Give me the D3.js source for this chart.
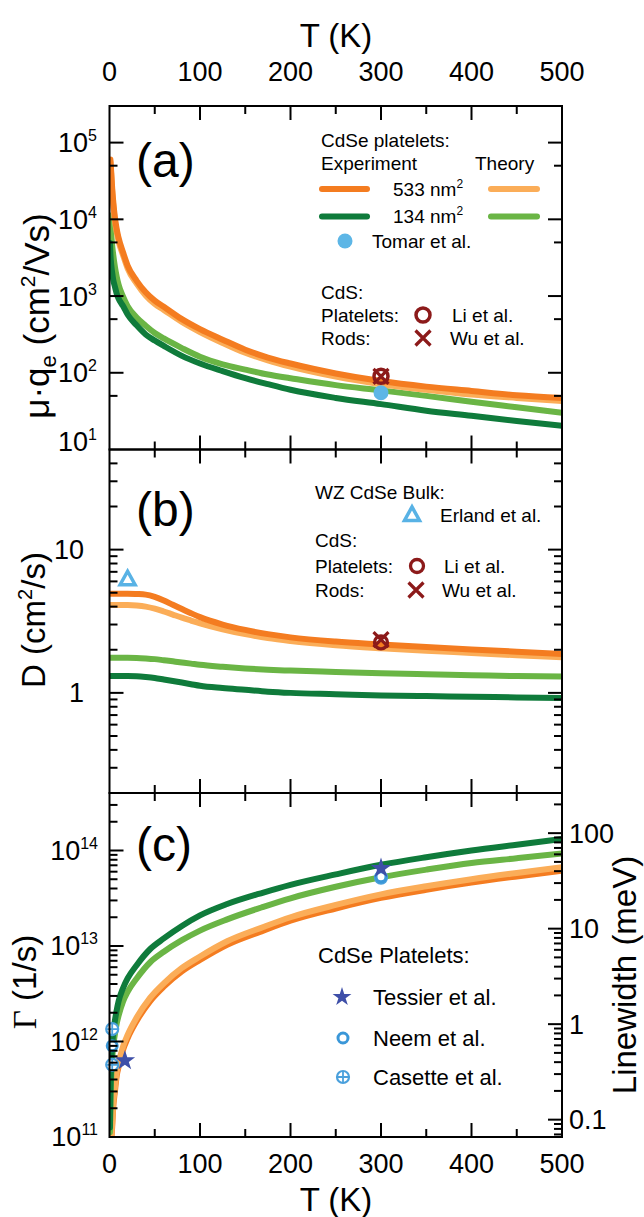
<!DOCTYPE html>
<html><head><meta charset="utf-8">
<script src="https://cdn.jsdelivr.net/npm/d3@7"></script>
<style>
body{margin:0;background:#fff}
svg{display:block}
text{font-family:"Liberation Sans",Arial,Helvetica,sans-serif;fill:#000}
</style>
</head><body>
<svg id="chart" width="644" height="1217"></svg>
<script>
// ---------------- DATA ----------------
const tempTicks = [0,100,200,300,400,500];

// Panel (a): mobility mu*q_e (cm^2/Vs)
const T_A = [0.5,1,2,3,4,6,8,10,15,20,30,40,50,60,80,100,125,150,175,200,250,300,350,400,450,500];
const mu533Exp = [null,60000,40000,25000,17800,10500,7400,5750,3700,2500,1580,1120,870,725,500,370,270,200,158,132,98,78,66,58,51,47];
const mu533Th  = [null,56000,36000,23000,16000,9500,6800,5200,3400,2300,1450,1020,790,660,460,340,245,182,145,120,89,71,60,52,47,43];
const mu134Th  = [null,11200,6300,4500,3550,2400,1780,1410,980,740,525,410,330,280,210,162,129,110,95,85,69,59,50,42,35.5,30];
const mu134Exp = [4900,3550,2500,2000,1660,1320,1070,930,740,575,415,316,263,224,166,132,105,85,71,60,47,39,32,27.5,23.5,20.4];
const tomarA = [[300,55]];
const liA = [[300,90]];
const wuA = [[300,90]];

// Panel (b): diffusion D (cm^2/s)
const T_B = [0.5,20,30,40,50,60,70,80,90,100,125,150,175,200,250,300,350,400,450,500];
const D533Exp = [4.93,4.93,4.9,4.85,4.68,4.42,4.12,3.85,3.6,3.38,3.0,2.75,2.57,2.44,2.28,2.18,2.09,2.01,1.94,1.87];
const D533Th  = [4.1,4.1,4.07,4.0,3.87,3.7,3.52,3.35,3.2,3.06,2.78,2.57,2.41,2.3,2.15,2.05,1.97,1.9,1.83,1.77];
const D134Th  = [1.76,1.76,1.755,1.74,1.72,1.69,1.66,1.63,1.6,1.57,1.52,1.48,1.45,1.43,1.40,1.37,1.35,1.33,1.31,1.30];
const D134Exp = [1.31,1.31,1.305,1.29,1.27,1.24,1.21,1.18,1.15,1.12,1.08,1.05,1.02,1.0,0.98,0.96,0.95,0.94,0.93,0.92];
const erlandB = [[20,6.2]];
const liB = [[300,2.25]];
const wuB = [[300,2.35]];

// Panel (c): dephasing rate Gamma (1/s)
const T_C = [0.5,1,2,3,4,6,8,10,15,20,30,45,60,80,100,130,170,200,250,300,350,400,450,500];
const G134Exp = [1.26e11,2.8e11,6.3e11,9.3e11,1.2e12,1.66e12,2.14e12,2.63e12,3.63e12,4.57e12,6.3e12,9.3e12,1.2e13,1.62e13,2.09e13,2.75e13,3.63e13,4.37e13,5.62e13,7.08e13,8.5e13,1.0e14,1.15e14,1.32e14];
const G134Th  = [1.12e11,2.24e11,4.47e11,6.6e11,8.7e11,1.2e12,1.55e12,1.86e12,2.63e12,3.31e12,4.57e12,6.76e12,8.7e12,1.15e13,1.45e13,1.9e13,2.57e13,3.16e13,4.17e13,5.25e13,6.3e13,7.4e13,8.3e13,9.3e13];
const G533Th  = [null,6.3e10,1.0e11,1.41e11,2.14e11,3.3e11,4.8e11,5.9e11,8.9e11,1.17e12,1.78e12,2.88e12,4.07e12,5.89e12,7.76e12,1.12e13,1.58e13,2.0e13,2.69e13,3.47e13,4.22e13,5.01e13,5.82e13,6.68e13];
const G533Exp = [null,5.6e10,9.1e10,1.29e11,1.96e11,3.0e11,4.4e11,5.4e11,8.2e11,1.08e12,1.64e12,2.65e12,3.75e12,5.42e12,7.14e12,1.03e13,1.45e13,1.84e13,2.47e13,3.19e13,3.88e13,4.61e13,5.35e13,6.15e13];
const tessierC = [[17,6.3e11],[300,6.5e13]];
const neemC = [[3,9e11],[300,5.3e13]];
const casetteC = [[3,1.35e12],[3,5.7e11],[300,5.2e13]];
const hbar_meVs = 6.582e-13;

// ---------------- STYLE ----------------
const COL = {expOr:"#F47C20", thOr:"#FBAD58", expGr:"#0F7B3B", thGr:"#6AB545",
  tomar:"#5DB6E6", dred:"#8C1A1A", erland:"#58B2E5", tessier:"#3E4FA8", neem:"#3A97D8", casette:"#4AA0DC"};
const LW = 6;

const svg = d3.select("#chart");
const X0 = 109.5, X1 = 562;
const x = d3.scaleLinear().domain([0,500]).range([X0,X1]);

const panels = [
  {id:"a", top:106, bot:449.5, y:d3.scaleLog().domain([10,3e5]).range([449.5,106]), minors:[5]},
  {id:"b", top:449.5, bot:793, y:d3.scaleLog().domain([0.2,50]).range([793,449.5]), minors:[2,3,4,5,6,7,8,9]},
  {id:"c", top:793, bot:1137, y:d3.scaleLog().domain([1e11,4e14]).range([1137,793]), minors:[2,3,4,5,6,7,8,9]}
];
const yR = d3.scaleLog().domain([1e11*hbar_meVs, 4e14*hbar_meVs]).range([1137,793]);

function logTicks(scale, minors){
  const [d0,d1] = scale.domain();
  const out = [];
  for(let k=Math.floor(Math.log10(d0)); k<=Math.ceil(Math.log10(d1)); k++){
    const base = Math.pow(10,k);
    if(base>=d0*0.999 && base<=d1*1.001) out.push({v:base, major:true, k:k});
    minors.forEach(m=>{const v=m*base; if(v>d0*1.001 && v<d1*0.999) out.push({v:v, major:false});});
  }
  return out;
}

const defs = svg.append("defs");
panels.forEach(p=>{
  defs.append("clipPath").attr("id","clip-"+p.id).append("rect")
    .attr("x",X0).attr("y",p.top).attr("width",X1-X0).attr("height",p.bot-p.top);
});

function drawLine(g, p, T, vals, color){
  const data = T.map((t,i)=>[t, vals[i]]);
  const line = d3.line().defined(d=>d[1]!=null).x(d=>x(d[0])).y(d=>p.y(d[1])).curve(d3.curveMonotoneX);
  g.append("path").datum(data).attr("d",line).attr("fill","none")
    .attr("stroke",color).attr("stroke-width",LW).attr("stroke-linejoin","round").attr("stroke-linecap","round");
}

function openCircle(g,cx,cy,r,color,sw,fill){
  g.append("circle").attr("cx",cx).attr("cy",cy).attr("r",r).attr("fill",fill||"none").attr("stroke",color).attr("stroke-width",sw);
}
function cross(g,cx,cy,s,color,sw){
  g.append("path").attr("d",`M${cx-s},${cy-s}L${cx+s},${cy+s}M${cx-s},${cy+s}L${cx+s},${cy-s}`)
    .attr("stroke",color).attr("stroke-width",sw).attr("fill","none");
}
function triangle(g,cx,cy,s,color,sw){
  const h = s*0.9;
  g.append("path").attr("d",`M${cx},${cy-h*0.6}L${cx+s/2},${cy+h*0.4}L${cx-s/2},${cy+h*0.4}Z`)
    .attr("stroke",color).attr("stroke-width",sw).attr("fill","none").attr("stroke-linejoin","miter");
}
function star(g,cx,cy,size,color){
  g.append("path").attr("d",d3.symbol().type(d3.symbolStar).size(size)()).attr("transform",`translate(${cx},${cy})`).attr("fill",color);
}
function casette(g,cx,cy,r,color){
  g.append("circle").attr("cx",cx).attr("cy",cy).attr("r",r).attr("fill","#fff").attr("stroke",color).attr("stroke-width",2.2);
  g.append("path").attr("d",`M${cx-r},${cy}L${cx+r},${cy}M${cx},${cy-r}L${cx},${cy+r}`).attr("stroke",color).attr("stroke-width",1.8);
}

// ---------- curves ----------
const pa = panels[0], pb = panels[1], pc = panels[2];
const gA = svg.append("g").attr("clip-path","url(#clip-a)");
drawLine(gA,pa,T_A,mu134Th,COL.thGr);
drawLine(gA,pa,T_A,mu134Exp,COL.expGr);
drawLine(gA,pa,T_A,mu533Th,COL.thOr);
drawLine(gA,pa,T_A,mu533Exp,COL.expOr);
tomarA.forEach(d=>svg.append("circle").attr("cx",x(d[0])).attr("cy",pa.y(d[1])).attr("r",7.5).attr("fill",COL.tomar));
liA.forEach(d=>openCircle(svg,x(d[0]),pa.y(d[1]),7,COL.dred,3.5));
wuA.forEach(d=>cross(svg,x(d[0]),pa.y(d[1]),7.5,COL.dred,3.2));

const gB = svg.append("g").attr("clip-path","url(#clip-b)");
drawLine(gB,pb,T_B,D134Th,COL.thGr);
drawLine(gB,pb,T_B,D134Exp,COL.expGr);
drawLine(gB,pb,T_B,D533Th,COL.thOr);
drawLine(gB,pb,T_B,D533Exp,COL.expOr);
erlandB.forEach(d=>triangle(svg,x(d[0]),pb.y(d[1]),15,COL.erland,3.5));
liB.forEach(d=>openCircle(svg,x(d[0]),pb.y(d[1]),6.5,COL.dred,3.3));
wuB.forEach(d=>cross(svg,x(d[0]),pb.y(d[1]),7.5,COL.dred,3.2));

const gC = svg.append("g").attr("clip-path","url(#clip-c)");
drawLine(gC,pc,T_C,G533Exp,COL.expOr);
drawLine(gC,pc,T_C,G533Th,COL.thOr);
drawLine(gC,pc,T_C,G134Th,COL.thGr);
drawLine(gC,pc,T_C,G134Exp,COL.expGr);
const gCm = svg.append("g");
casetteC.forEach(d=>casette(gCm,x(d[0]),pc.y(d[1]),6,COL.casette));
neemC.forEach(d=>openCircle(gCm,x(d[0]),pc.y(d[1]),5,COL.neem,3,"#fff"));
tessierC.forEach(d=>star(gCm,x(d[0]),pc.y(d[1]),130,COL.tessier));

// ---------- frames & ticks ----------
const axisG = svg.append("g").attr("stroke","#000").attr("stroke-width",2).attr("fill","none");
panels.forEach(p=>{
  axisG.append("rect").attr("x",X0).attr("y",p.top).attr("width",X1-X0).attr("height",p.bot-p.top);
  d3.range(0,501,50).forEach(t=>{
    const len = (t%100===0)?14:8;
    if(t===0||t===500) return;
    axisG.append("line").attr("x1",x(t)).attr("x2",x(t)).attr("y1",p.top).attr("y2",p.top+len);
    axisG.append("line").attr("x1",x(t)).attr("x2",x(t)).attr("y1",p.bot).attr("y2",p.bot-len);
  });
  logTicks(p.y,p.minors).forEach(tk=>{
    const yy = p.y(tk.v); const len = tk.major?14:8;
    if(Math.abs(yy-p.top)<1||Math.abs(yy-p.bot)<1) return;
    axisG.append("line").attr("x1",X0).attr("x2",X0+len).attr("y1",yy).attr("y2",yy);
    if(p.id!=="c") axisG.append("line").attr("x1",X1).attr("x2",X1-len).attr("y1",yy).attr("y2",yy);
  });
});
logTicks(yR,[2,3,4,5,6,7,8,9]).forEach(tk=>{
  const yy = yR(tk.v); const len = tk.major?14:8;
  axisG.append("line").attr("x1",X1).attr("x2",X1-len).attr("y1",yy).attr("y2",yy);
});

// ---------- tick labels ----------
const TF = 27;
tempTicks.forEach(t=>{
  svg.append("text").attr("x",x(t)).attr("y",72).attr("dy","0.35em").attr("text-anchor","middle").attr("font-size",TF).text(t);
  svg.append("text").attr("x",x(t)).attr("y",1164).attr("dy","0.35em").attr("text-anchor","middle").attr("font-size",TF).text(t);
});
function powLabel(xr, yc, k){
  const t = svg.append("text").attr("x",xr).attr("y",yc).attr("dy","0.35em").attr("text-anchor","end").attr("font-size",TF);
  t.append("tspan").text("10");
  t.append("tspan").attr("font-size",16).attr("dy",-11).text(k);
}
[1,2,3,4,5].forEach(k=>powLabel(97, k===1?442:pa.y(Math.pow(10,k)), k));
[11,12,13,14].forEach(k=>powLabel(98, pc.y(Math.pow(10,k)), k));
[[10,"10"],[1,"1"]].forEach(d=>svg.append("text").attr("x",84).attr("y",pb.y(d[0])).attr("dy","0.35em").attr("text-anchor","end").attr("font-size",TF).text(d[1]));
[[0.1,"0.1"],[1,"1"],[10,"10"],[100,"100"]].forEach(d=>svg.append("text").attr("x",569).attr("y",yR(d[0])).attr("dy","0.35em").attr("text-anchor","start").attr("font-size",TF).text(d[1]));

// ---------- axis titles ----------
const AF = 33;
svg.append("text").attr("x",336).attr("y",35).attr("dy","0.35em").attr("text-anchor","middle").attr("font-size",AF).text("T (K)");
svg.append("text").attr("x",336).attr("y",1199).attr("dy","0.35em").attr("text-anchor","middle").attr("font-size",AF).text("T (K)");
function rotTitle(xb, yc, build, fs){
  const t = svg.append("text").attr("transform",`translate(${xb},${yc}) rotate(-90)`).attr("text-anchor","middle").attr("font-size",fs||AF);
  build(t);
}
rotTitle(49,316,t=>{
  t.append("tspan").text("\u03BC\u00B7q");
  t.append("tspan").attr("font-size",22).attr("dy",7).text("e");
  t.append("tspan").attr("dy",-7).text(" (cm");
  t.append("tspan").attr("font-size",21).attr("dy",-14).text("2");
  t.append("tspan").attr("dy",14).text("/Vs)");
},35);
rotTitle(45,620,t=>{
  t.append("tspan").text("D (cm");
  t.append("tspan").attr("font-size",20).attr("dy",-13).text("2");
  t.append("tspan").attr("dy",13).text("/s)");
});
rotTitle(36,982,t=>{
  t.append("tspan").attr("font-family","Liberation Serif, Times New Roman, serif").text("\u0393");
  t.append("tspan").text(" (1/s)");
});
rotTitle(636,975,t=>t.text("Linewidth (meV)"));

// ---------- panel labels ----------
[["(a)",160],["(b)",509],["(c)",844]].forEach(d=>svg.append("text").attr("x",136).attr("y",d[1]).attr("dy","0.35em").attr("font-size",48).text(d[0]));

// ---------- legends ----------
function lt(xp,yp,txt,fs,anchor){
  return svg.append("text").attr("x",xp).attr("y",yp).attr("dy","0.35em").attr("font-size",fs).attr("text-anchor",anchor||"start").text(txt);
}
function lline(x1,x2,yy,c){
  svg.append("line").attr("x1",x1).attr("x2",x2).attr("y1",yy).attr("y2",yy).attr("stroke",c).attr("stroke-width",LW).attr("stroke-linecap","round");
}
const LF = 19;
lt(321,140,"CdSe platelets:",LF);
lt(321,163,"Experiment",LF);
lt(475,163,"Theory",LF);
lline(322,367,189,COL.expOr); lline(491,537,189,COL.thOr);
let t533 = lt(393,189,"533 nm",LF); t533.append("tspan").attr("font-size",12).attr("dy",-8).text("2");
lline(322,367,216.5,COL.expGr); lline(491,537,216.5,COL.thGr);
let t134 = lt(393,216.5,"134 nm",LF); t134.append("tspan").attr("font-size",12).attr("dy",-8).text("2");
svg.append("circle").attr("cx",345).attr("cy",241).attr("r",7.5).attr("fill",COL.tomar);
lt(372,241,"Tomar et al.",LF);
lt(321,292,"CdS:",LF);
lt(321,315,"Platelets:",LF); openCircle(svg,423,315,7,COL.dred,3.5); lt(452,315,"Li et al.",LF);
lt(321,338,"Rods:",LF); cross(svg,423,338,7.5,COL.dred,3.2); lt(450,338,"Wu et al.",LF);

lt(315,492,"WZ CdSe Bulk:",LF);
triangle(svg,412,515,15,COL.erland,3.5); lt(440,515,"Erland et al.",LF);
lt(315,540,"CdS:",LF);
lt(315,566,"Platelets:",LF); openCircle(svg,417,566,6.5,COL.dred,3.3); lt(444,566,"Li et al.",LF);
lt(315,590,"Rods:",LF); cross(svg,416,590,7.5,COL.dred,3.2); lt(442,590,"Wu et al.",LF);

const LF2 = 22;
lt(318,955,"CdSe Platelets:",LF2);
star(svg,342,997,110,COL.tessier); lt(373,997,"Tessier et al.",LF2);
openCircle(svg,343,1038,5,COL.neem,3,"#fff"); lt(373,1038,"Neem et al.",LF2);
casette(svg,343,1077,6,COL.casette); lt(373,1077,"Casette et al.",LF2);
</script>
</body></html>
